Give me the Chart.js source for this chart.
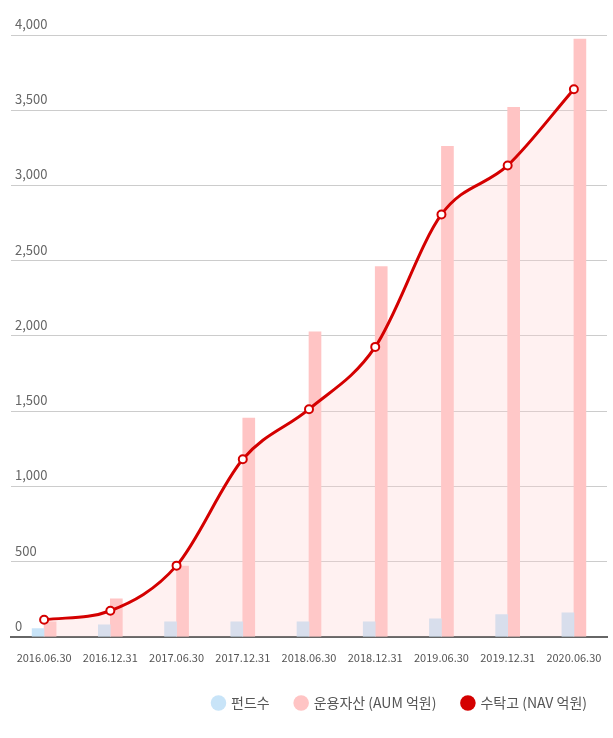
<!DOCTYPE html><html><head><meta charset="utf-8"><script src="https://cdn.jsdelivr.net/npm/chart.js@4"></script>
<style>html,body{margin:0;padding:0;background:#fff}#w{width:613px;height:738px}</style></head><body><div id="w"><canvas id="c"></canvas></div>
<script>
const categories=['2016.06.30','2016.12.31','2017.06.30','2017.12.31','2018.06.30','2018.12.31','2019.06.30','2019.12.31','2020.06.30'];
const funds=[55,80,100,100,100,100,120,147,160];
const aum=[100,253,470,1453,2027,2460,3260,3520,3973];
const nav=[113,173,473,1180,1513,1927,2807,3133,3640];
const yTicks=[0,500,1000,1500,2000,2500,3000,3500,4000];
const F='"Noto Sans CJK KR","Noto Sans",sans-serif';
new Chart(document.getElementById('c'),{
data:{labels:categories,datasets:[
{type:'bar',label:'펀드수',data:funds,backgroundColor:'#c8e4f8',barThickness:12,order:1},
{type:'bar',label:'운용자산 (AUM 억원)',data:aum,backgroundColor:'#ffc4c4',barThickness:12,order:1},
{type:'line',label:'수탁고 (NAV 억원)',data:nav,borderColor:'#d40000',backgroundColor:'#d40000',borderWidth:3,cubicInterpolationMode:'monotone',
 fill:{target:'origin',above:'rgba(255,210,210,0.3)'},pointRadius:4,pointBorderWidth:2,pointBackgroundColor:'#fff',pointBorderColor:'#d40000',order:0}
]},
options:{responsive:true,maintainAspectRatio:false,animation:false,
layout:{padding:{top:35,left:3,right:0,bottom:18}},
plugins:{tooltip:{enabled:false},legend:{position:'bottom',align:'end',labels:{usePointStyle:true,pointStyle:'circle',boxWidth:11,boxHeight:11,padding:26,color:'#555',font:{family:F,size:14},
 sort:(a,b)=>a.datasetIndex-b.datasetIndex,
 generateLabels:ch=>ch.data.datasets.map((d,i)=>({text:d.label,fillStyle:d.type==='line'?'#d40000':d.backgroundColor,strokeStyle:d.type==='line'?'#d40000':d.backgroundColor,lineWidth:0,pointStyle:'circle',datasetIndex:i,fontColor:'#555'}))},
 onClick:null}},
scales:{
x:{grid:{display:false},border:{color:'#666',width:2},ticks:{color:'#555',font:{family:F,size:11},maxRotation:0,padding:6}},
y:{min:0,max:4000,afterBuildTicks:s=>{s.ticks=yTicks.map(v=>({value:v}))},grid:{color:'#ccc',drawTicks:false},border:{display:false},
 ticks:{mirror:true,labelOffset:-11,padding:4,color:'#666',font:{family:F,size:13},callback:v=>v.toLocaleString('en-US')}}
}}});
</script></body></html>
